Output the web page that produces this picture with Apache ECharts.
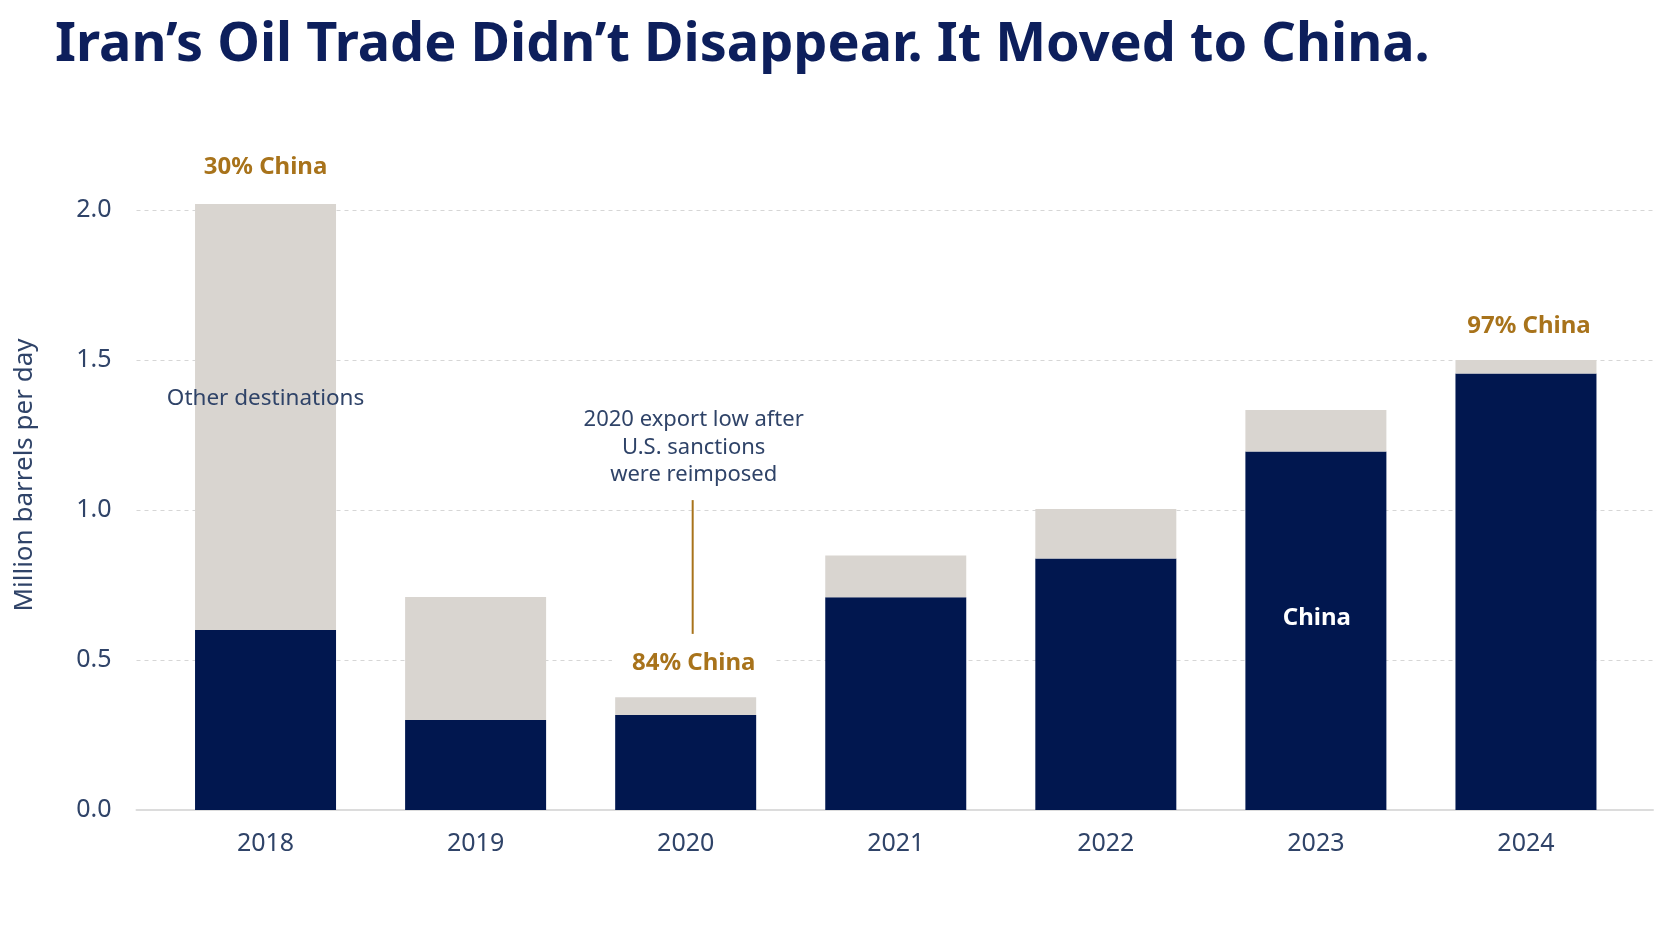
<!DOCTYPE html>
<html>
<head>
<meta charset="utf-8">
<script src="https://cdn.jsdelivr.net/npm/echarts@6/dist/echarts.min.js"></script>
<style>
  html, body { margin: 0; padding: 0; background: #fff; }
  #chart { width: 1672px; height: 941px; }
</style>
</head>
<body>
<div id="chart"></div>
<script>
// 数据（百万桶/日）
var years = ['2018', '2019', '2020', '2021', '2022', '2023', '2024'];
var chinaValues = [0.60, 0.30, 0.317, 0.709, 0.838, 1.195, 1.455];
var otherValues = [1.42, 0.41, 0.059, 0.139, 0.165, 0.138, 0.045];
var yTicks = [0, 0.5, 1.0, 1.5, 2.0];
var shareYears = ['2018', '2020', '2024'];
var chinaLabelYear = '2023';
var otherLabel = { year: '2018', value: 1.373, text: 'Other destinations' };
var note = { year: '2020', value: 1.208, text: '2020 export low after\nU.S. sanctions\nwere reimposed' };
var leader = { year: '2020', from: 0.587, to: 1.033 };

var NAVY = '#01174f';
var GRAY = '#d9d5d0';
var GOLD = '#a8731b';
var TEXT = '#2f4368';
var FONT = 'Noto Sans';

var chart = echarts.init(document.getElementById('chart'));

// 中国份额标签，放在堆叠顶部
var otherData = otherValues.map(function (v, i) {
    if (shareYears.indexOf(years[i]) < 0) return v;
    var pct = Math.round(chinaValues[i] / (chinaValues[i] + v) * 100);
    var lab = {
        show: true,
        position: 'top',
        distance: 25,
        formatter: pct + '% China',
        color: GOLD,
        fontFamily: FONT,
        fontWeight: 'bold',
        fontSize: 24
    };
    if (years[i] === note.year) {
        lab.backgroundColor = '#fff';
        lab.padding = [4, 20];
        lab.distance = 18;
        lab.offset = [8, 0];
    }
    if (years[i] === '2024') {
        lab.distance = 22;
        lab.offset = [3, 0];
    }
    return { value: v, label: lab };
});

var chinaData = chinaValues.map(function (v, i) {
    if (years[i] !== chinaLabelYear) return v;
    return {
        value: v,
        label: {
            show: true, position: 'inside', offset: [1, -13],
            formatter: 'China', color: '#fff',
            fontFamily: FONT, fontWeight: 'bold', fontSize: 24
        }
    };
});

var leaderMid = (leader.from + leader.to) / 2;
var leaderLen = (leader.to - leader.from) * 300;

var option = {
    backgroundColor: '#fff',
    animation: false,
    title: {
        text: 'Iran’s Oil Trade Didn’t Disappear. It Moved to China.',
        left: 50,
        top: 14,
        textStyle: { color: '#0d1f5c', fontFamily: FONT, fontWeight: 'bold', fontSize: 54 }
    },
    grid: [
        { left: 136.5, right: 19, top: 210, bottom: 131 },
        { left: 160.5, right: 41, top: 210, bottom: 131 }
    ],
    xAxis: [
        {
            gridIndex: 0, type: 'category', data: [''],
            axisLine: { lineStyle: { color: '#dcdcdc', width: 2 } },
            axisTick: { show: false }, axisLabel: { show: false }
        },
        {
            gridIndex: 1, type: 'category', data: years,
            axisLine: { show: false }, axisTick: { show: false },
            axisLabel: { color: TEXT, fontFamily: FONT, fontSize: 25, margin: 21 }
        }
    ],
    yAxis: [
        {
            gridIndex: 0, type: 'value',
            min: yTicks[0], max: yTicks[yTicks.length - 1], interval: yTicks[1] - yTicks[0],
            name: 'Million barrels per day',
            nameLocation: 'middle', nameGap: 99,
            nameTextStyle: { color: TEXT, fontFamily: FONT, fontSize: 26, padding: [0, 0, 0, 70] },
            axisLine: { show: false }, axisTick: { show: false },
            axisLabel: {
                color: TEXT, fontFamily: FONT, fontSize: 25, margin: 25,
                formatter: function (v) { return v.toFixed(1); }
            },
            splitLine: { lineStyle: { color: '#d6d6d6', type: [4, 4], width: 1 } }
        },
        {
            gridIndex: 1, type: 'value',
            min: yTicks[0], max: yTicks[yTicks.length - 1], interval: yTicks[1] - yTicks[0],
            show: false, splitLine: { show: false }
        }
    ],
    series: [
        {
            name: 'China', type: 'bar', stack: 'total',
            xAxisIndex: 1, yAxisIndex: 1, barWidth: 141, clip: false,
            itemStyle: { color: NAVY },
            data: chinaData,
            markPoint: {
                silent: true,
                data: [
                    {
                        coord: [otherLabel.year, otherLabel.value],
                        symbol: 'circle', symbolSize: 1, itemStyle: { color: 'rgba(0,0,0,0)' },
                        label: {
                            show: true, position: 'inside', formatter: otherLabel.text,
                            color: TEXT, fontFamily: FONT, fontSize: 22.5
                        }
                    },
                    {
                        coord: [note.year, note.value],
                        symbol: 'circle', symbolSize: 1, itemStyle: { color: 'rgba(0,0,0,0)' },
                        label: {
                            show: true, position: 'inside', offset: [8, 0], formatter: note.text,
                            color: TEXT, fontFamily: FONT, fontSize: 22, lineHeight: 27.5, align: 'center'
                        }
                    },
                    {
                        coord: [leader.year, leaderMid],
                        symbol: 'rect', symbolSize: [2, leaderLen], symbolOffset: [7, 0],
                        itemStyle: { color: GOLD },
                        label: { show: false }
                    }
                ]
            }
        },
        {
            name: 'Other destinations', type: 'bar', stack: 'total',
            xAxisIndex: 1, yAxisIndex: 1, barWidth: 141, clip: false,
            itemStyle: { color: GRAY },
            data: otherData
        }
    ]
};

chart.setOption(option);
</script>
</body>
</html>
